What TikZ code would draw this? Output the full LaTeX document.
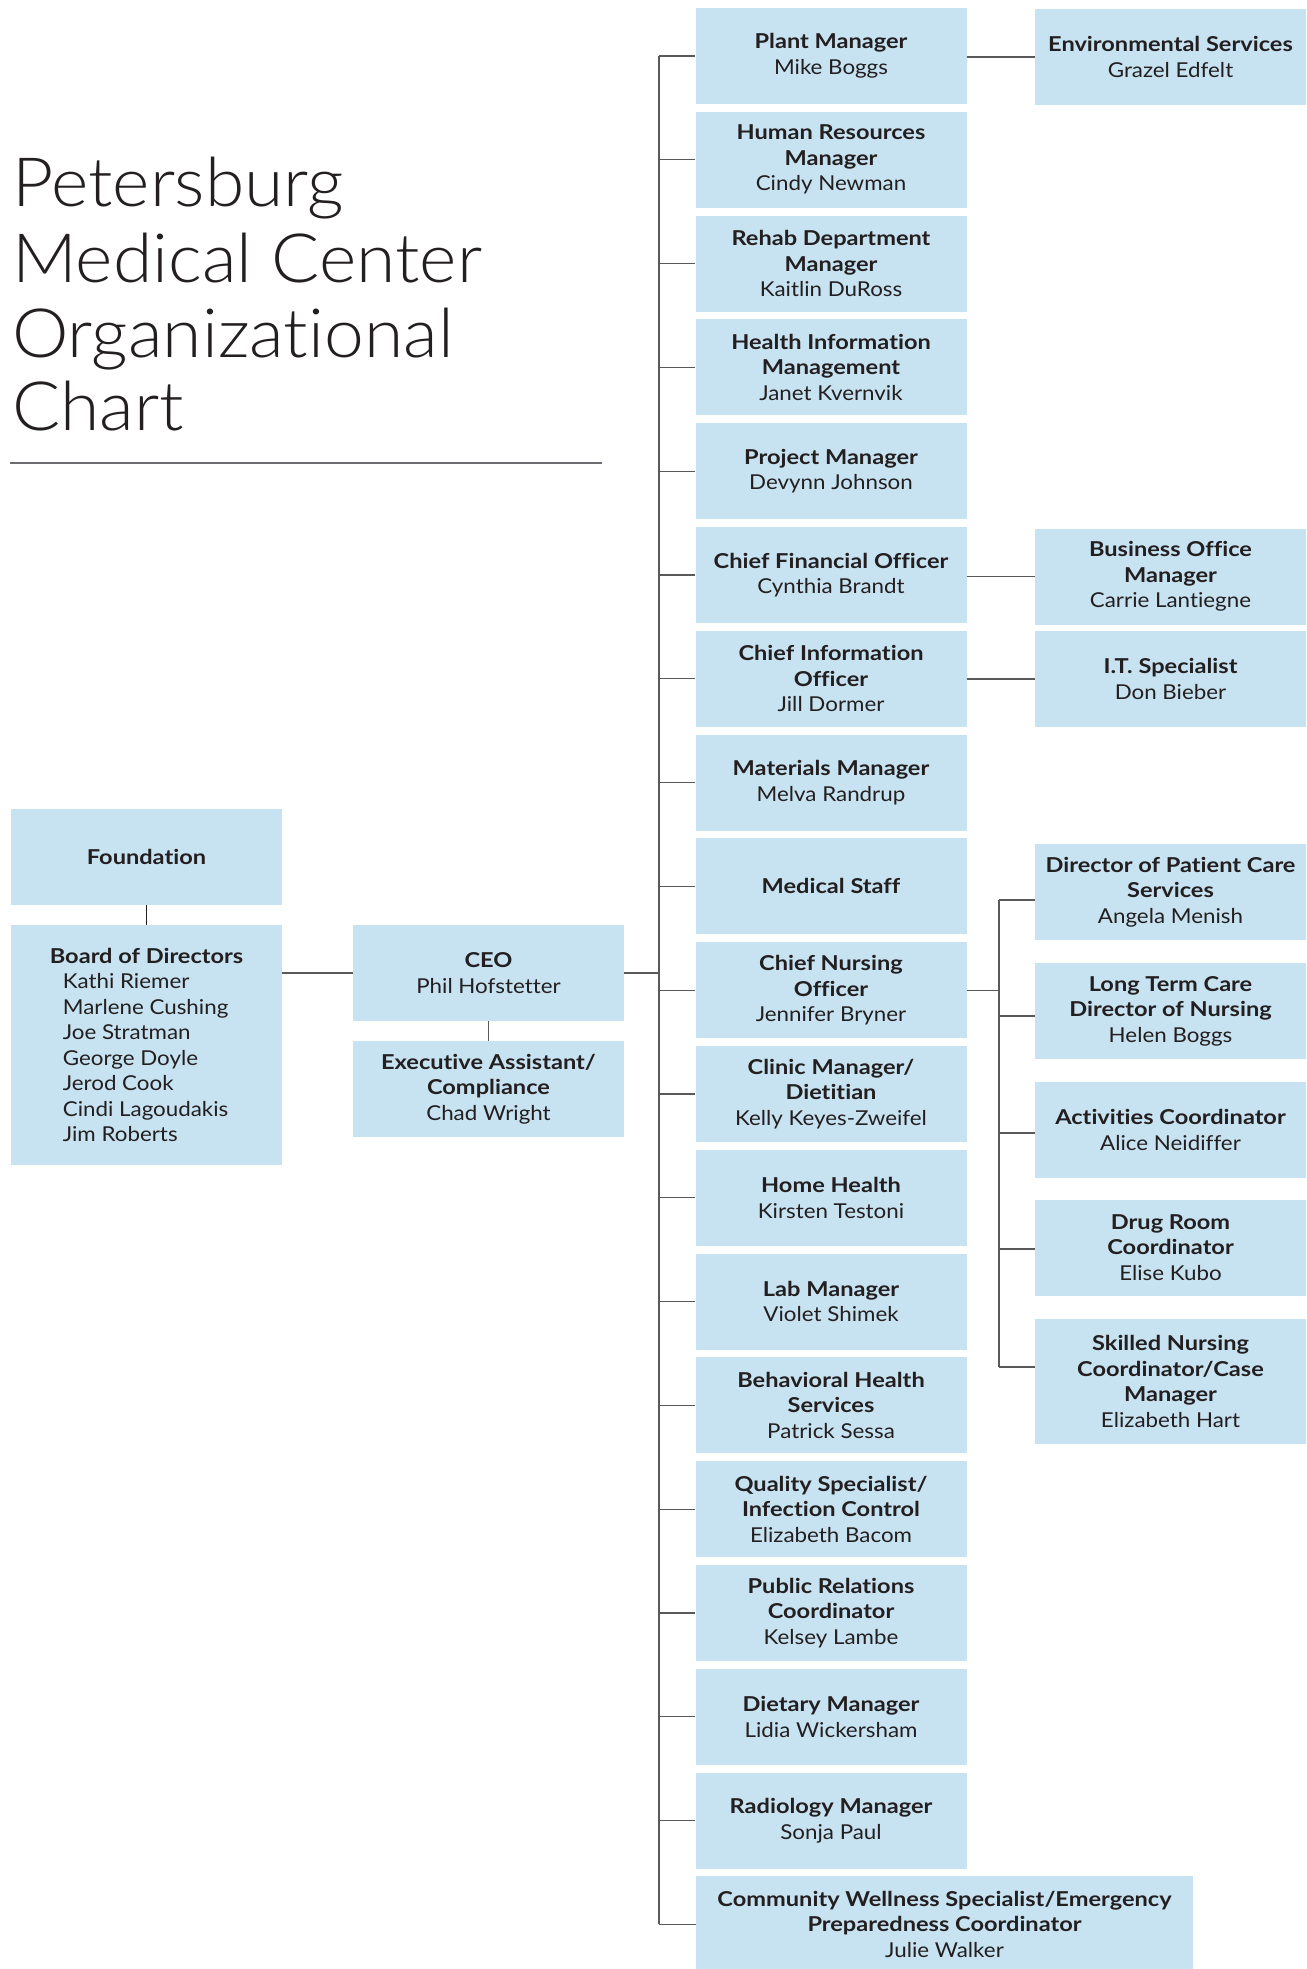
\documentclass[tikz,border=0pt]{standalone}
\usepackage{fontspec}
\setmainfont{Lato}
\IfFontExistsTF{Lato Light}{\newfontfamily\lightfont{Lato Light}[FakeStretch=1.05, Ligatures=NoCommon]}{\newfontfamily\lightfont{Lato}[FakeStretch=1.05, Ligatures=NoCommon]}
\newfontfamily\nmfont{Lato}[FakeStretch=1.09, Ligatures=NoCommon]
\newfontfamily\hdfont{Lato}[FakeStretch=1.15, Ligatures=NoCommon]
\definecolor{boxblue}{HTML}{C7E2F0}
\definecolor{ink}{HTML}{231F20}
\definecolor{linegray}{HTML}{58595B}
\definecolor{rulegray}{HTML}{6D6E71}
\newcommand{\hb}[1]{{\hdfont\bfseries #1}}
\begin{document}
\begin{tikzpicture}[x=1pt,y=-1pt,
  box/.style={fill=boxblue, minimum width=271pt, minimum height=96pt, inner sep=0pt,
    align=center, text=ink, font=\nmfont\fontsize{20.5}{25.5}\selectfont},
  conn/.style={draw=linegray, line width=1.3pt},
  titletext/.style={anchor=base west, inner sep=0pt, text=ink, font=\lightfont\fontsize{68}{75}\selectfont}]
\useasboundingbox (0,0) rectangle (1306,1969);

% Title
\node[titletext] (t1) at (12,207) {Petersburg};
\node[titletext] (t2) at (12,282) {Medical Center};
\node[titletext] (t3) at (12,357) {Organizational};
\node[titletext] (t4) at (12,430) {Chart};
\coordinate (ruleL) at (10,463);
\coordinate (ruleR) at (602,463);
\draw[draw=rulegray, line width=2.5pt] (ruleL) -- (ruleR);

% Left side
\node[box] (found) at (146.5,857) {\hb{Foundation}};
\node[box, minimum height=240pt, align=left] (board) at (146.5,1045)
  {\hb{Board of Directors}\\\hspace*{13pt}Kathi Riemer\\\hspace*{13pt}Marlene Cushing\\\hspace*{13pt}Joe Stratman\\\hspace*{13pt}George Doyle\\\hspace*{13pt}Jerod Cook\\\hspace*{13pt}Cindi Lagoudakis\\\hspace*{13pt}Jim Roberts};
\node[box] (ceo) at (488.5,973) {\hb{CEO}\\Phil Hofstetter};
\node[box] (exec) at (488.5,1089) {\hb{Executive Assistant/}\\\hb{Compliance}\\Chad Wright};

% Main column
\node[box] (m0) at (831,56.0) {\hb{Plant Manager}\\Mike Boggs};
\node[box] (m1) at (831,159.8) {\hb{Human Resources}\\\hb{Manager}\\Cindy Newman};
\node[box] (m2) at (831,263.6) {\hb{Rehab Department}\\\hb{Manager}\\Kaitlin DuRoss};
\node[box] (m3) at (831,367.4) {\hb{Health Information}\\\hb{Management}\\Janet Kvernvik};
\node[box] (m4) at (831,471.2) {\hb{Project Manager}\\Devynn Johnson};
\node[box] (m5) at (831,575.0) {\hb{Chief Financial Officer}\\Cynthia Brandt};
\node[box] (m6) at (831,678.8) {\hb{Chief Information}\\\hb{Officer}\\Jill Dormer};
\node[box] (m7) at (831,782.6) {\hb{Materials Manager}\\Melva Randrup};
\node[box] (m8) at (831,886.4) {\hb{Medical Staff}};
\node[box] (m9) at (831,990.2) {\hb{Chief Nursing}\\\hb{Officer}\\Jennifer Bryner};
\node[box] (m10) at (831,1094.0) {\hb{Clinic Manager/}\\\hb{Dietitian}\\Kelly Keyes-Zweifel};
\node[box] (m11) at (831,1197.8) {\hb{Home Health}\\Kirsten Testoni};
\node[box] (m12) at (831,1301.6) {\hb{Lab Manager}\\Violet Shimek};
\node[box] (m13) at (831,1405.4) {\hb{Behavioral Health}\\\hb{Services}\\Patrick Sessa};
\node[box] (m14) at (831,1509.2) {\hb{Quality Specialist/}\\\hb{Infection Control}\\Elizabeth Bacom};
\node[box] (m15) at (831,1613.0) {\hb{Public Relations}\\\hb{Coordinator}\\Kelsey Lambe};
\node[box] (m16) at (831,1716.8) {\hb{Dietary Manager}\\Lidia Wickersham};
\node[box] (m17) at (831,1820.6) {\hb{Radiology Manager}\\Sonja Paul};
\node[box, minimum width=497pt] (m18) at (944.5,1924.4) {\hb{Community Wellness Specialist/Emergency}\\\hb{Preparedness Coordinator}\\Julie Walker};

% Right column
\node[box] (env) at (1170.5,57) {\hb{Environmental Services}\\Grazel Edfelt};
\node[box] (bus) at (1170.5,576.5) {\hb{Business Office}\\\hb{Manager}\\Carrie Lantiegne};
\node[box] (its) at (1170.5,679) {\hb{I.T. Specialist}\\Don Bieber};
\node[box] (dpc) at (1170.5,892) {\hb{Director of Patient Care}\\\hb{Services}\\Angela Menish};
\node[box] (ltc) at (1170.5,1011) {\hb{Long Term Care}\\\hb{Director of Nursing}\\Helen Boggs};
\node[box] (act) at (1170.5,1130) {\hb{Activities Coordinator}\\Alice Neidiffer};
\node[box] (drug) at (1170.5,1247.5) {\hb{Drug Room}\\\hb{Coordinator}\\Elise Kubo};
\node[box, minimum height=125pt] (skn) at (1170.5,1381.5) {\hb{Skilled Nursing}\\\hb{Coordinator/Case}\\\hb{Manager}\\Elizabeth Hart};

% Connectors: left side
\draw[draw=ink, line width=1.3pt] (found.south) -- (board.north);
\draw[conn] (board.east |- ceo.west) -- (ceo.west);
\draw[conn] (ceo.south) -- (exec.north);

% Main trunk
\coordinate (ttop) at (659,56.0);
\coordinate (tbot) at (659,1924.4);
\draw[conn] (ttop) -- (tbot);
\draw[conn] (ceo.east) -- (ceo.east -| ttop);
\foreach \i in {0,...,18} {\draw[conn] (m\i.west -| ttop) -- (m\i.west);}

% Side connectors
\draw[conn] (m0.east |- env.west) -- (env.west);
\draw[conn] (m5.east |- bus.west) -- (bus.west);
\draw[conn] (m6.east |- its.west) -- (its.west);

% Nursing sub-trunk
\coordinate (stop) at (999,900);
\coordinate (sbot) at (999,1367);
\draw[conn] (m9.east) -- (m9.east -| stop);
\draw[conn] (stop) -- (sbot);
\draw[conn] (stop) -- (dpc.west |- stop);
\draw[conn] (stop |- 0,1016) -- (ltc.west |- 0,1016);
\draw[conn] (stop |- 0,1133) -- (act.west |- 0,1133);
\draw[conn] (stop |- 0,1249) -- (drug.west |- 0,1249);
\draw[conn] (sbot) -- (skn.west |- sbot);
\end{tikzpicture}
\end{document}
